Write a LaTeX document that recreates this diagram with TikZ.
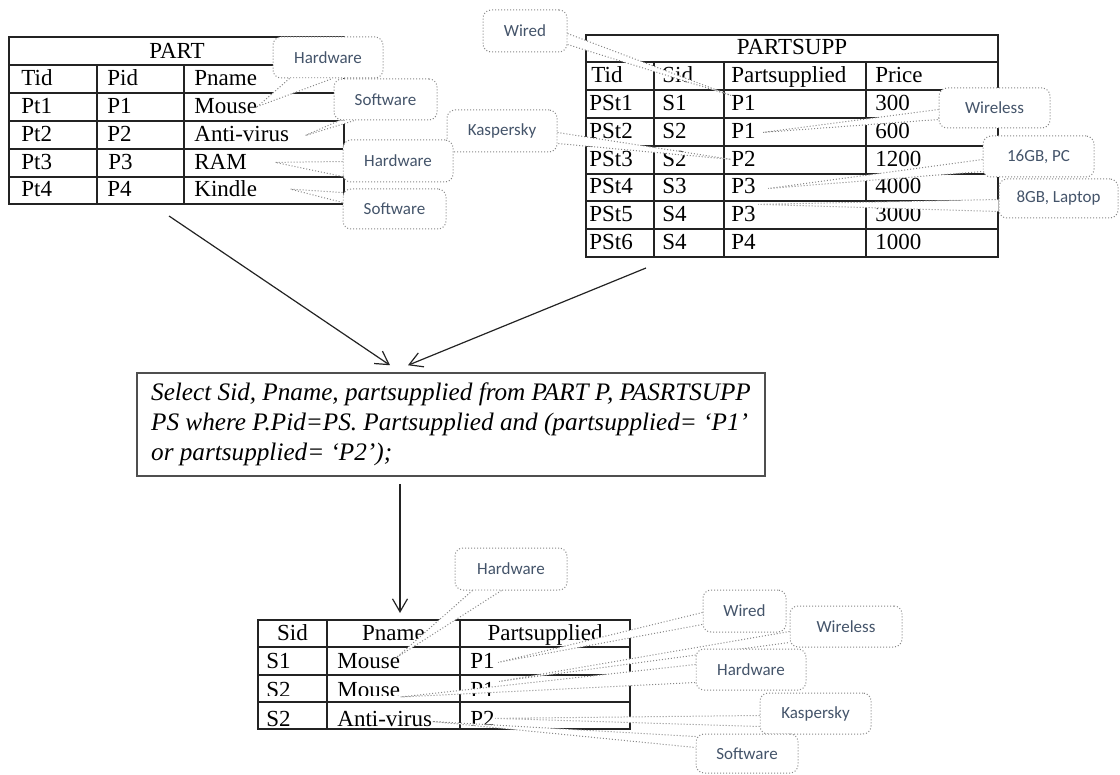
\documentclass[tikz,border=0pt]{standalone}
\usepackage{fontspec}
\setmainfont{Liberation Serif}
\newfontfamily\calfont{Carlito}
\usetikzlibrary{arrows.meta,calc}
\definecolor{notegray}{RGB}{135,135,135}
\definecolor{noteblue}{RGB}{68,84,106}
\definecolor{rulegray}{RGB}{35,35,35}
% dotted pointer of a callout: base a, tip, base b
\newcommand{\notetip}[3]{\fill[white] #1 -- #2 -- #3 -- cycle;
  \draw[notegray, densely dotted, line width=0.5pt] #1 -- #2 -- #3;}

\begin{document}
\begin{tikzpicture}[x=0.5pt, y=-0.5pt,
    cell/.style={anchor=base west, inner sep=0pt, font=\fontsize{11.5}{13}\selectfont},
    head/.style={cell, anchor=base},
    note/.style={draw=notegray, densely dotted, line width=0.5pt, rounded corners=4pt, fill=white,
      text=noteblue, font=\calfont\fontsize{8.5}{10}\selectfont, inner sep=0pt},
    grid/.style={draw=rulegray, line width=0.7pt},
    flow/.style={draw=rulegray, line width=0.6pt, -{Straight Barb[length=6.5pt,width=7.5pt]}},
    query/.style={draw=rulegray!80, line width=0.75pt, align=left, inner xsep=6pt,
      font=\fontsize{12.6}{15}\selectfont\itshape}
]
\useasboundingbox (0,0) rectangle (1120,775);

% PART table
\draw[grid] (9,37) rectangle (344,204);
\draw[grid] (9,65) -- (344,65);
\draw[grid] (9,93) -- (344,93);
\draw[grid] (9,121) -- (344,121);
\draw[grid] (9,149) -- (344,149);
\draw[grid] (9,177) -- (344,177);
\draw[grid] (97,65) -- (97,204);
\draw[grid] (184,65) -- (184,204);
\node[head] (partT) at (177,59) {PART};
\node[cell] (tidA) at (21,86) {Tid};
\node[cell] (pidA) at (107,86) {Pid};
\node[cell] (pnmA) at (194,86) {Pname};
\node[cell] (pt1) at (21,114) {Pt1};
\node[cell] (p1A) at (107,114) {P1};
\node[cell] (mseA) at (194,114) {Mouse};
\node[cell] (pt2) at (21,142) {Pt2};
\node[cell] (p2A) at (107,142) {P2};
\node[cell] (antA) at (194,142) {Anti-virus};
\node[cell] (pt3) at (21,170) {Pt3};
\node[cell] (p3A) at (108,170) {P3};
\node[cell] (ramA) at (194,170) {RAM};
\node[cell] (pt4) at (21,197) {Pt4};
\node[cell] (p4A) at (107,197) {P4};
\node[cell] (kndA) at (194,197) {Kindle};

% PARTSUPP table
\draw[grid] (586,35) rectangle (998,257);
\draw[grid] (586,62) -- (998,62);
\draw[grid] (586,90) -- (998,90);
\draw[grid] (586,118) -- (998,118);
\draw[grid] (586,146) -- (998,146);
\draw[grid] (586,174) -- (998,174);
\draw[grid] (586,201) -- (998,201);
\draw[grid] (586,229) -- (998,229);
\draw[grid] (654,62) -- (654,257);
\draw[grid] (724,62) -- (724,257);
\draw[grid] (866,62) -- (866,257);
\node[head] (suppT) at (792,55) {PARTSUPP};
\node[cell] (tidB) at (591,83) {Tid};
\node[cell] (sidB) at (662,83) {Sid};
\node[cell] (psB) at (731,83) {Partsupplied};
\node[cell] (prB) at (875,83) {Price};
\node[cell] (ps1) at (589,111) {PSt1};
\node[cell] (s1a) at (662,111) {S1};
\node[cell] (p1a) at (731,111) {P1};
\node[cell] (pr1) at (875,111) {300};
\node[cell] (ps2) at (589,139) {PSt2};
\node[cell] (s2a) at (662,139) {S2};
\node[cell] (p1b) at (731,139) {P1};
\node[cell] (pr2) at (875,139) {600};
\node[cell] (ps3) at (589,167) {PSt3};
\node[cell] (s2b) at (662,167) {S2};
\node[cell] (p2a) at (731,167) {P2};
\node[cell] (pr3) at (875,167) {1200};
\node[cell] (ps4) at (589,194) {PSt4};
\node[cell] (s3a) at (662,194) {S3};
\node[cell] (p3a) at (731,194) {P3};
\node[cell] (pr4) at (875,194) {4000};
\node[cell] (ps5) at (589,222) {PSt5};
\node[cell] (s4a) at (662,222) {S4};
\node[cell] (p3b) at (731,222) {P3};
\node[cell] (pr5) at (875,222) {3000};
\node[cell] (ps6) at (589,250) {PSt6};
\node[cell] (s4b) at (662,250) {S4};
\node[cell] (p4a) at (731,250) {P4};
\node[cell] (pr6) at (875,250) {1000};

% query
\node[query, minimum width=314pt, minimum height=51.5pt] (qry) at (451,424.5)
  {Select Sid, Pname, partsupplied from PART P, PASRTSUPP\\
   PS where P.Pid=PS. Partsupplied and (partsupplied= ‘P1’\\
   or partsupplied= ‘P2’);};
\coordinate (partOut) at (169,216);
\coordinate (suppOut) at (646,268);
\coordinate (resIn) at (400,613);
\draw[flow] (partOut) -- ($(qry.north)+(-61,-7)$);
\draw[flow] (suppOut) -- ($(qry.north)+(-43,-7)$);
\draw[flow] ($(qry.south)+(-51,7)$) -- (resIn);

% result table
\draw[grid] (258,620) rectangle (630,729);
\draw[grid] (258,647) -- (630,647);
\draw[grid] (258,675) -- (630,675);
\draw[grid] (258,702) -- (630,702);
\draw[grid] (327,620) -- (327,729);
\draw[grid] (460,620) -- (460,729);
\node[head] (sidC) at (292.5,640) {Sid};
\node[head] (pnmC) at (393.5,640) {Pname};
\node[head] (psC) at (545,640) {Partsupplied};
\node[cell] (s1c) at (266,668) {S1};
\node[cell] (mseB) at (337,668) {Mouse};
\node[cell] (p1c) at (470,668) {P1};
\begin{scope}
  \clip (258,676) rectangle (630,695);
  \node[cell] (s2c) at (266,697) {S2};
  \node[cell] (mseC) at (337,697) {Mouse};
  \node[cell] (p1d) at (470,697) {P1};
\end{scope}
\node[cell] (s2d) at (266,726) {S2};
\node[cell] (antB) at (337,726) {Anti-virus};
\node[cell] (p2b) at (470,726) {P2};

% callouts, top
\node[note, minimum width=55pt, minimum height=20.5pt] (hwA) at (328,57.5) {Hardware};
\notetip{($(hwA.south west)+(17,0)$)}{(mseA.east)}{($(hwA.south west)+(60,0)$)}
\node[note, minimum width=51.5pt, minimum height=20.5pt] (swA) at (385.5,99.5) {Software};
\notetip{($(swA.south west)+(6,0)$)}{($(antA.east)+(16,1)$)}{($(swA.south west)+(21,0)$)}
\node[note, minimum width=55pt, minimum height=21pt] (ksA) at (502,131) {Kaspersky};
\notetip{($(ksA.north east)+(0,23)$)}{(p2a.west)}{($(ksA.north east)+(0,34)$)}
\node[note, minimum width=55pt, minimum height=21pt] (hwB) at (398,161) {Hardware};
\notetip{($(hwB.north west)+(0,22)$)}{($(ramA.east)+(28,0)$)}{($(hwB.north west)+(0,37)$)}
\node[note, minimum width=51.5pt, minimum height=20pt] (swB) at (394.5,209) {Software};
\notetip{($(swB.north west)+(0,4)$)}{($(kndA.east)+(33,0)$)}{($(swB.north west)+(0,14)$)}
\node[note, minimum width=42pt, minimum height=21pt] (wdA) at (525,31) {Wired};
\notetip{($(wdA.north east)+(0,24)$)}{(p1a.north west)}{($(wdA.north east)+(0,35)$)}
\node[note, minimum width=55.5pt, minimum height=20pt] (wlA) at (994.5,108) {Wireless};
\notetip{($(wlA.north west)+(0,22)$)}{($(p1b.east)+(7,1)$)}{($(wlA.north west)+(0,32)$)}
\node[note, minimum width=55.5pt, minimum height=20.5pt] (pcA) at (1038.5,156.5) {16GB, PC};
\notetip{($(pcA.north west)+(0,24)$)}{($(p3a.east)+(12,2)$)}{($(pcA.north west)+(0,36)$)}
\node[note, minimum width=59.5pt, minimum height=19.5pt] (lpA) at (1058.5,198.5) {8GB, Laptop};
\notetip{($(lpA.north west)+(0,21)$)}{($(p3b.north east)+(2,-2)$)}{($(lpA.north west)+(0,33)$)}

% callouts, bottom
\node[note, minimum width=56pt, minimum height=21pt] (hwC) at (511,569) {Hardware};
\notetip{($(hwC.south west)+(18,0)$)}{($(mseB.east)+(-4,-3)$)}{($(hwC.south west)+(47,0)$)}
\node[note, minimum width=41.5pt, minimum height=21pt] (wdB) at (744.5,611) {Wired};
\notetip{($(wdB.north west)+(0,23)$)}{($(p1c.east)+(3,2)$)}{($(wdB.north west)+(0,35)$)}
\node[note, minimum width=56pt, minimum height=20.5pt] (wlB) at (846,626.5) {Wireless};
\notetip{($(wlB.north west)+(0,26)$)}{($(p1d.east)+(4,-8)$)}{($(wlB.north west)+(0,37)$)}
\node[note, minimum width=55pt, minimum height=20.5pt] (hwD) at (751,669.5) {Hardware};
\notetip{($(hwD.north west)+(0,16)$)}{(mseC.base east)}{($(hwD.north west)+(0,34)$)}
\node[note, minimum width=55.5pt, minimum height=20.5pt] (ksB) at (815.5,713.5) {Kaspersky};
\notetip{($(ksB.north west)+(0,23)$)}{(p2b.east)}{($(ksB.north west)+(0,34)$)}
\node[note, minimum width=51pt, minimum height=19.5pt] (swC) at (747,753.5) {Software};
\notetip{($(swC.north west)+(0,3)$)}{($(antB.east)+(0,3)$)}{($(swC.north west)+(0,14)$)}

\end{tikzpicture}
\end{document}
